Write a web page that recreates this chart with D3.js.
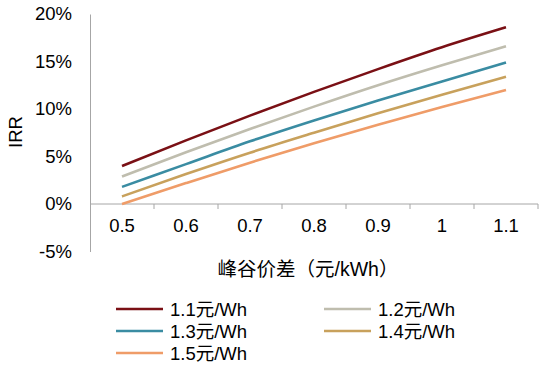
<!DOCTYPE html>
<html><head><meta charset="utf-8">
<script src="https://cdn.jsdelivr.net/npm/d3@7"></script>
<style>body{margin:0;background:#fff}svg{display:block}text{font-family:"Liberation Sans","Noto Sans CJK SC",sans-serif;fill:#000}</style>
</head><body><svg id="c" width="550" height="367"></svg>
<script>
const categories = ["0.5","0.6","0.7","0.8","0.9","1","1.1"];
const seriesNames = ["1.1元/Wh","1.2元/Wh","1.3元/Wh","1.4元/Wh","1.5元/Wh"];
const s11 = [4.0, 6.7, 9.3, 11.8, 14.2, 16.5, 18.6];
const s12 = [2.9, 5.45, 7.9, 10.25, 12.5, 14.6, 16.6];
const s13 = [1.8, 4.2, 6.6, 8.8, 10.9, 12.9, 14.9];
const s14 = [0.8, 3.15, 5.4, 7.5, 9.55, 11.5, 13.4];
const s15 = [0.0, 2.2, 4.35, 6.4, 8.35, 10.2, 12.0];
const yTicks = [-5, 0, 5, 10, 15, 20];
const colors = ["#7a1015", "#bfbdae", "#3a8ca2", "#c8a15c", "#ef9c68"];
const allSeries = [s11, s12, s13, s14, s15];

const svg = d3.select("#c");
const x = d3.scaleBand().domain(categories).range([90, 538]);
const y = d3.scaleLinear().domain([-5, 20]).range([251.5, 14]);
const axisColor = "#a6a6a6";

// y axis
const ya = svg.append("g").attr("transform", "translate(90,0)")
  .call(d3.axisLeft(y).tickValues(yTicks).tickSize(0).tickPadding(18).tickFormat(d => d + "%"));
ya.select(".domain").attr("stroke", axisColor);
ya.selectAll("text").style("font-size", "18.5px").attr("fill", "#000");

// x axis at 0
const xa = svg.append("g").attr("transform", `translate(0,${y(0)})`)
  .call(d3.axisBottom(x).tickSize(0).tickPadding(15));
xa.select(".domain").remove();
xa.selectAll("text").style("font-size", "18.5px").attr("fill", "#000");
svg.append("line").attr("x1", 90).attr("x2", 538).attr("y1", y(0)).attr("y2", y(0)).attr("stroke", axisColor);
categories.forEach((c, i) => {
  const bx = x(c) + x.bandwidth();
  svg.append("line").attr("x1", bx).attr("x2", bx).attr("y1", y(0)).attr("y2", y(0) + 5).attr("stroke", axisColor);
});

// lines
const line = d3.line().x((d, i) => x(categories[i]) + x.bandwidth() / 2).y(d => y(d)).curve(d3.curveMonotoneX);
allSeries.forEach((s, k) => {
  svg.append("path").datum(s).attr("d", line).attr("fill", "none")
    .attr("stroke", colors[k]).attr("stroke-width", 2.6);
});

// axis titles
svg.append("text").attr("transform", "translate(22,132) rotate(-90)").attr("text-anchor", "middle")
  .style("font-size", "18.5px").text("IRR");
svg.append("text").attr("x", 308).attr("y", 276).attr("text-anchor", "middle")
  .style("font-size", "19.5px").text("峰谷价差（元/kWh）");

// legend
const legPos = [[116, 309], [324, 309], [116, 331], [324, 331], [116, 353]];
seriesNames.forEach((n, k) => {
  const [lx, ly] = legPos[k];
  svg.append("line").attr("x1", lx).attr("x2", lx + 47).attr("y1", ly).attr("y2", ly)
    .attr("stroke", colors[k]).attr("stroke-width", 2.6);
  svg.append("text").attr("x", lx + 54).attr("y", ly + 7).style("font-size", "18.5px").text(n);
});
</script></body></html>
